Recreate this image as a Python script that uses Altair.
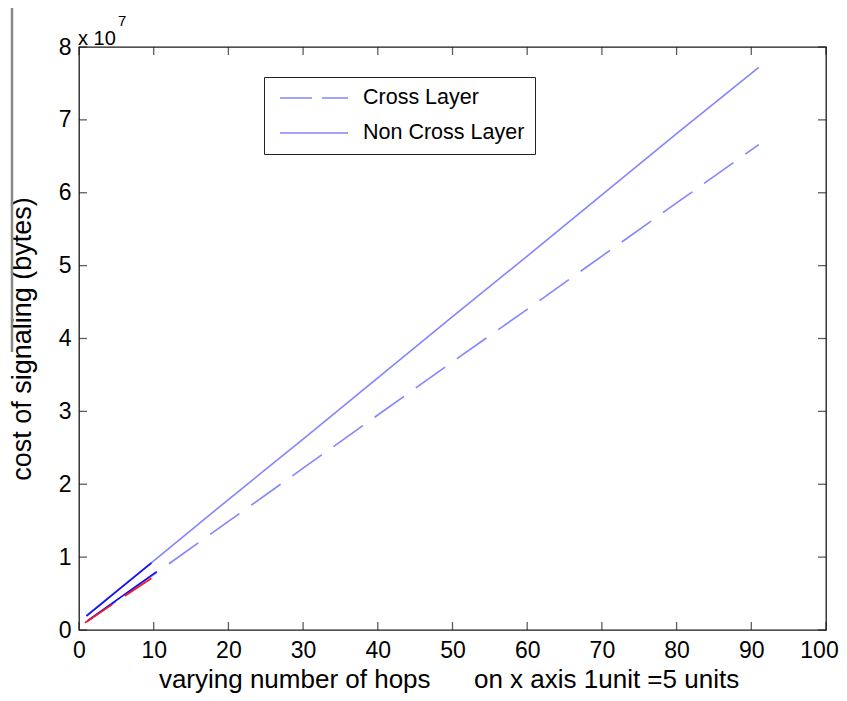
import altair as alt
import pandas as pd

# ---- data (cost in units of 10^7 bytes) ----
hops = [1, 10, 20, 30, 40, 50, 60, 70, 80, 91]
non_cross = [0.20, 0.95, 1.79, 2.62, 3.46, 4.30, 5.13, 5.97, 6.81, 7.72]
cross = [0.11, 0.76, 1.49, 2.22, 2.95, 3.68, 4.40, 5.13, 5.86, 6.66]

# short darker overlays near the origin
upper_x = [1, 9.7]
upper_y = [0.19, 0.92]
lower_x = [1.2, 10.4]
lower_y = [0.13, 0.80]
red_x = [0.8, 9.7]
red_y = [0.10, 0.71]

series_names = ["Cross Layer", "Non Cross Layer"]
x_ticks = list(range(0, 101, 10))
y_ticks = list(range(0, 9))

LIGHT = "#8585ff"
DARK = "#1010f0"
RED = "#ff1a1a"
FONT = "Liberation Sans"
W, H = 747, 583

xscale = alt.Scale(domain=[0, 100], nice=False, zero=False)
yscale = alt.Scale(domain=[0, 8], nice=False, zero=False)

xaxis = alt.Axis(values=x_ticks, domain=False, ticks=False, grid=False, labelFlush=False,
                 labelFont=FONT, labelFontSize=23, labelColor="black", labelPadding=9,
                 labelOffset={"condition": {"test": "datum.value === 100", "value": -7}, "value": 0},
                 title="varying number of hops" + "\u00a0" * 6 + "on x axis 1unit =5 units",
                 titleFont=FONT, titleFontSize=26, titleFontWeight="normal", titleColor="black",
                 titleX=369.5, titleY=57, titleBaseline="alphabetic")
yaxis = alt.Axis(values=y_ticks, domain=False, ticks=False, grid=False, format="d", labelFlush=False,
                 labelFont=FONT, labelFontSize=23, labelColor="black", labelPadding=8,
                 title="cost of signaling (bytes)",
                 titleFont=FONT, titleFontSize=27, titleFontWeight="normal", titleColor="black",
                 titleX=-43, titleY=H / 2, titleAlign="center")


def X(field="x"):
    return alt.X(f"{field}:Q", scale=xscale, axis=xaxis)


def Y(field="y"):
    return alt.Y(f"{field}:Q", scale=yscale, axis=yaxis)


def line_df(xs, ys):
    return pd.DataFrame({"x": xs, "y": ys})


cross_line = alt.Chart(line_df(hops, cross)).mark_line(
    color=LIGHT, strokeWidth=1.6, strokeDash=[36, 14.5]).encode(x=X(), y=Y())
non_cross_line = alt.Chart(line_df(hops, non_cross)).mark_line(
    color=LIGHT, strokeWidth=1.6).encode(x=X(), y=Y())
upper_line = alt.Chart(line_df(upper_x, upper_y)).mark_line(
    color=DARK, strokeWidth=1.6).encode(x=X(), y=Y())
lower_line = alt.Chart(line_df(lower_x, lower_y)).mark_line(
    color=DARK, strokeWidth=1.6).encode(x=X(), y=Y())
red_line = alt.Chart(line_df(red_x, red_y)).mark_line(
    color=RED, strokeWidth=1.6, strokeDash=[33, 15]).encode(x=X(), y=Y())

legend = alt.Legend(title=None, orient="none", legendX=185, legendY=30, direction="vertical",
                    symbolType="M-1,0H5.8", symbolSize=400, symbolStrokeWidth=1.6,
                    symbolOffset=5, labelOffset=62, labelFont=FONT, labelFontSize=21.5,
                    labelColor="black", labelLimit=300, padding=10, rowPadding=13,
                    strokeColor="#222222", fillColor="white")
legend_df = pd.DataFrame({"series": series_names, "x": [None, None], "y": [None, None]})
legend_layer = alt.Chart(legend_df).mark_line(strokeWidth=1.6).encode(
    x=X(), y=Y(),
    color=alt.Color("series:N", scale=alt.Scale(domain=series_names, range=[LIGHT, LIGHT]), legend=legend),
    strokeDash=alt.StrokeDash("series:N", scale=alt.Scale(domain=series_names, range=[[32, 10], [1, 0]]),
                              legend=legend),
)

# inward ticks (MATLAB style box)
xt_df = pd.DataFrame({"t": x_ticks})
yt_df = pd.DataFrame({"t": y_ticks})
tick_style = dict(color="#1a1a1a", thickness=1.3, size=8)
bottom_ticks = alt.Chart(xt_df).mark_tick(orient="vertical", yOffset=-4, **tick_style).encode(
    x=alt.X("t:Q", scale=xscale, axis=xaxis), y=alt.datum(0, scale=yscale))
top_ticks = alt.Chart(xt_df).mark_tick(orient="vertical", yOffset=4, **tick_style).encode(
    x=alt.X("t:Q", scale=xscale, axis=xaxis), y=alt.datum(8))
left_ticks = alt.Chart(yt_df).mark_tick(orient="horizontal", xOffset=4, **tick_style).encode(
    y=alt.Y("t:Q", scale=yscale, axis=yaxis), x=alt.datum(0))
right_ticks = alt.Chart(yt_df).mark_tick(orient="horizontal", xOffset=-4, **tick_style).encode(
    y=alt.Y("t:Q", scale=yscale, axis=yaxis), x=alt.datum(100))

# exponent label
exp_base = alt.Chart(pd.DataFrame({"a": [0]})).mark_text(
    text="x 10", font=FONT, fontSize=20, align="left", baseline="alphabetic", color="black"
).encode(x=alt.value(-1), y=alt.value(-2))
exp_sup = alt.Chart(pd.DataFrame({"a": [0]})).mark_text(
    text="7", font=FONT, fontSize=15, align="left", baseline="alphabetic", color="black"
).encode(x=alt.value(39), y=alt.value(-21))

# grey scan artefact at the left edge
artefact = alt.Chart(pd.DataFrame({"a": [0]})).mark_rule(
    color="#8a8a8a", strokeWidth=2.5, clip=False
).encode(x=alt.value(-67), y=alt.value(-39), y2=alt.value(305))

chart = alt.layer(
    cross_line, non_cross_line, upper_line, lower_line, red_line, legend_layer,
    bottom_ticks, top_ticks, left_ticks, right_ticks, exp_base, exp_sup, artefact,
).properties(
    width=W, height=H,
    autosize=alt.AutoSizeParams(type="none"),
    padding={"left": 71, "top": 39, "right": 13, "bottom": 63},
    background="white",
).configure_view(stroke="#1a1a1a", strokeWidth=1.3)

chart.save("out.html", embed_options={"renderer": "svg", "actions": False})
